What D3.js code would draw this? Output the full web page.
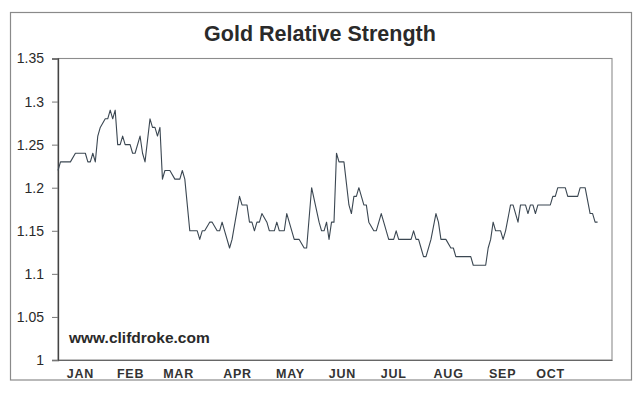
<!DOCTYPE html>
<html><head><meta charset="utf-8">
<script src="https://cdn.jsdelivr.net/npm/d3@7/dist/d3.min.js"></script>
<style>
body{margin:0;background:#fff;}
svg{display:block;font-family:"Liberation Sans",Arial,sans-serif;}
</style></head>
<body><svg id="c" width="639" height="393"></svg>
<script>
// ---- data (trading-day index, ratio) ----
const days = [0,1,5,7,11,12,13,14,15,16,17,19,20,21,22,23,24,25,26,27,29,30,31,33,34,35,37,38,39,40,41,42,43,45,47,49,50,51,53,56,57,58,59,61,62,64,65,66,67,69,70,73,74,76,77,78,79,80,81,82,84,85,87,88,89,91,92,95,97,99,100,102,105,106,107,108,109,110,111,112,113,115,117,118,119,120,121,123,124,125,127,128,130,131,133,135,136,137,142,143,144,145,146,147,148,150,152,153,154,156,158,159,160,166,167,172,173,174,175,176,178,179,180,182,183,185,186,188,189,190,191,192,193,198,199,200,201,204,205,209,210,212,214,215,216,217];
const ratio = [1.22,1.23,1.23,1.24,1.24,1.23,1.23,1.24,1.23,1.26,1.27,1.28,1.28,1.29,1.28,1.29,1.25,1.25,1.26,1.25,1.25,1.24,1.24,1.26,1.24,1.23,1.28,1.27,1.27,1.26,1.27,1.21,1.22,1.22,1.21,1.21,1.22,1.21,1.15,1.15,1.14,1.15,1.15,1.16,1.16,1.15,1.15,1.16,1.15,1.13,1.14,1.19,1.18,1.18,1.16,1.16,1.15,1.16,1.16,1.17,1.16,1.15,1.15,1.16,1.15,1.15,1.17,1.14,1.14,1.13,1.13,1.20,1.16,1.15,1.15,1.16,1.14,1.16,1.16,1.24,1.23,1.23,1.18,1.17,1.19,1.19,1.20,1.18,1.18,1.16,1.15,1.15,1.17,1.16,1.14,1.14,1.15,1.14,1.14,1.15,1.14,1.14,1.13,1.12,1.12,1.14,1.17,1.16,1.14,1.14,1.13,1.13,1.12,1.12,1.11,1.11,1.13,1.14,1.16,1.15,1.15,1.14,1.15,1.18,1.18,1.16,1.18,1.18,1.17,1.18,1.18,1.17,1.18,1.18,1.19,1.19,1.20,1.20,1.19,1.19,1.20,1.20,1.17,1.17,1.16,1.16];
const months = ["JAN","FEB","MAR","APR","MAY","JUN","JUL","AUG","SEP","OCT"];
const monthLabelDay = [8.8,29,48.3,72,93.3,114.2,134.8,156.9,178.6,197.9];
const yTicks = [1,1.05,1.1,1.15,1.2,1.25,1.3,1.35];
const yTickLabels = ["1","1.05","1.1","1.15","1.2","1.25","1.3","1.35"];
const title = "Gold Relative Strength";
const credit = "www.clifdroke.com";

const svg = d3.select("#c");
const L=58, R=612, T=58.5, B=360;
const x = d3.scaleLinear().domain([0,222.8]).range([L,R]);
const y = d3.scaleLinear().domain([1,1.35]).range([B,T]);

// outer frame
svg.append("rect").attr("x",10.5).attr("y",12.5).attr("width",621).attr("height",367.5)
  .attr("fill","#fff").attr("stroke","#8a8a8a").attr("stroke-width",1.2);

// plot border
svg.append("rect").attr("x",L).attr("y",T).attr("width",R-L).attr("height",B-T)
  .attr("fill","#fff").attr("stroke","#8c8c8c").attr("stroke-width",1.1);

// title
svg.append("text").attr("x",320).attr("y",40.5).attr("text-anchor","middle")
  .attr("font-size",21.5).attr("font-weight","bold").attr("fill","#2a2a2a").text(title);

// y axis
const yAxis = d3.axisLeft(y).tickValues(yTicks).tickSize(6).tickPadding(8)
  .tickFormat((d,i)=>yTickLabels[i]);
const ga = svg.append("g").attr("transform",`translate(${L},0)`).call(yAxis);
ga.select(".domain").attr("stroke","#444").attr("stroke-width",1.3);
ga.selectAll(".tick line").attr("stroke","#777");
ga.selectAll(".tick text").attr("font-size",14).attr("fill","#2a2a2a")
  .attr("font-family","'Liberation Sans',Arial,sans-serif");

// x axis (month labels)
const xAxis = d3.axisBottom(x).tickValues(monthLabelDay).tickSize(0).tickPadding(9)
  .tickFormat((d,i)=>months[i]);
const gx = svg.append("g").attr("transform",`translate(0,${B})`).call(xAxis);
gx.select(".domain").attr("stroke","#666").attr("stroke-width",1.1);
gx.selectAll(".tick text").attr("font-size",12.5).attr("font-weight","bold")
  .attr("fill","#333").attr("letter-spacing","0.8px")
  .attr("font-family","'Liberation Sans',Arial,sans-serif");

// credit
svg.append("text").attr("x",69).attr("y",342.5).attr("font-size",15.5)
  .attr("font-weight","bold").attr("fill","#2a2a2a").text(credit);

// line
const pts = days.map((d,i)=>[d,ratio[i]]);
svg.append("path").datum(pts)
  .attr("fill","none").attr("stroke","#3b4752").attr("stroke-width",1.1)
  .attr("stroke-linejoin","round")
  .attr("d", d3.line().x(d=>x(d[0])).y(d=>y(d[1])));
</script></body></html>
